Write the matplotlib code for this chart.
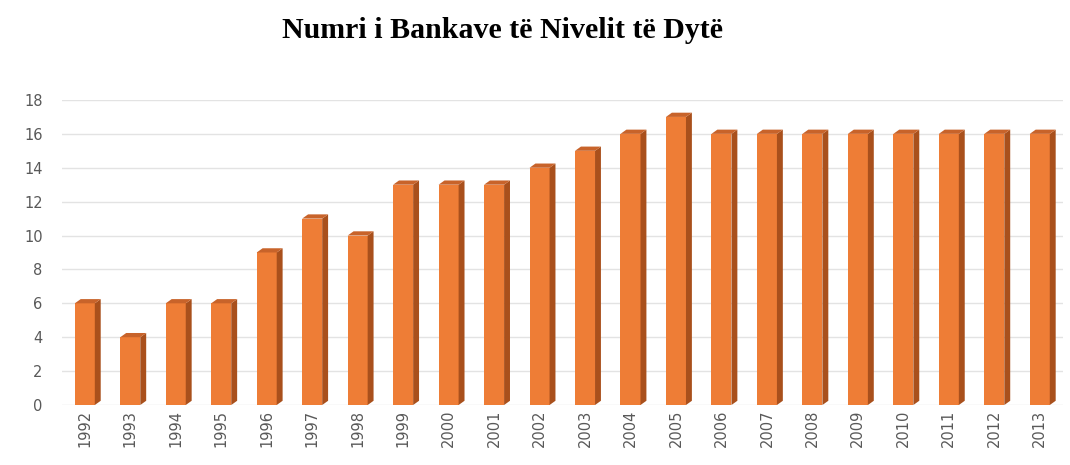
import numpy as np
import matplotlib.pyplot as plt
from matplotlib.patches import Polygon

years = ['1992', '1993', '1994', '1995', '1996', '1997', '1998', '1999', '2000', '2001', '2002',
         '2003', '2004', '2005', '2006', '2007', '2008', '2009', '2010', '2011', '2012', '2013']
banks = [6, 4, 6, 6, 9, 11, 10, 13, 13, 13, 14, 15, 16, 17, 16, 16, 16, 16, 16, 16, 16, 16]

fig = plt.figure(figsize=(10.7, 4.65), dpi=100)
ax = fig.add_axes([0.058, 0.129, 0.935, 0.656])

ind = np.arange(len(years))
width = 0.44
depth = 0.13   # side face in x units
rise = 0.25    # side face rise in y units

ax.bar(ind, banks, width, color='#EE7D36', zorder=3)
for x, v in zip(ind, banks):
    side = Polygon([(x + width / 2, 0), (x + width / 2 + depth, rise),
                    (x + width / 2 + depth, v + rise), (x + width / 2, v)],
                   closed=True, facecolor='#A9501C', edgecolor='none', zorder=3)
    top = Polygon([(x - width / 2, v), (x + width / 2, v),
                   (x + width / 2 + depth, v + rise), (x - width / 2 + depth, v + rise)],
                  closed=True, facecolor='#C8632A', edgecolor='none', zorder=3, clip_on=False)
    ax.add_patch(side)
    ax.add_patch(top)

ax.set_xlim(-0.5, len(years) - 0.5)
ax.set_ylim(0, 18)
ax.set_yticks(np.arange(0, 19, 2))
ax.set_xticks(ind)
ax.set_xticklabels(years, rotation=90)
ax.tick_params(axis='both', length=0, colors='#595959', labelsize=10.5)
ax.tick_params(axis='y', pad=14)
ax.yaxis.grid(True, color='#E3E3E3', linewidth=1, zorder=0)
ax.set_axisbelow(True)
for s in ax.spines.values():
    s.set_visible(False)

fig.text(0.47, 0.935, 'Numri i Bankave të Nivelit të Dytë', ha='center', va='center',
         family='Liberation Serif', fontweight='bold', fontsize=21.5)

plt.savefig('out.png', dpi=100)
